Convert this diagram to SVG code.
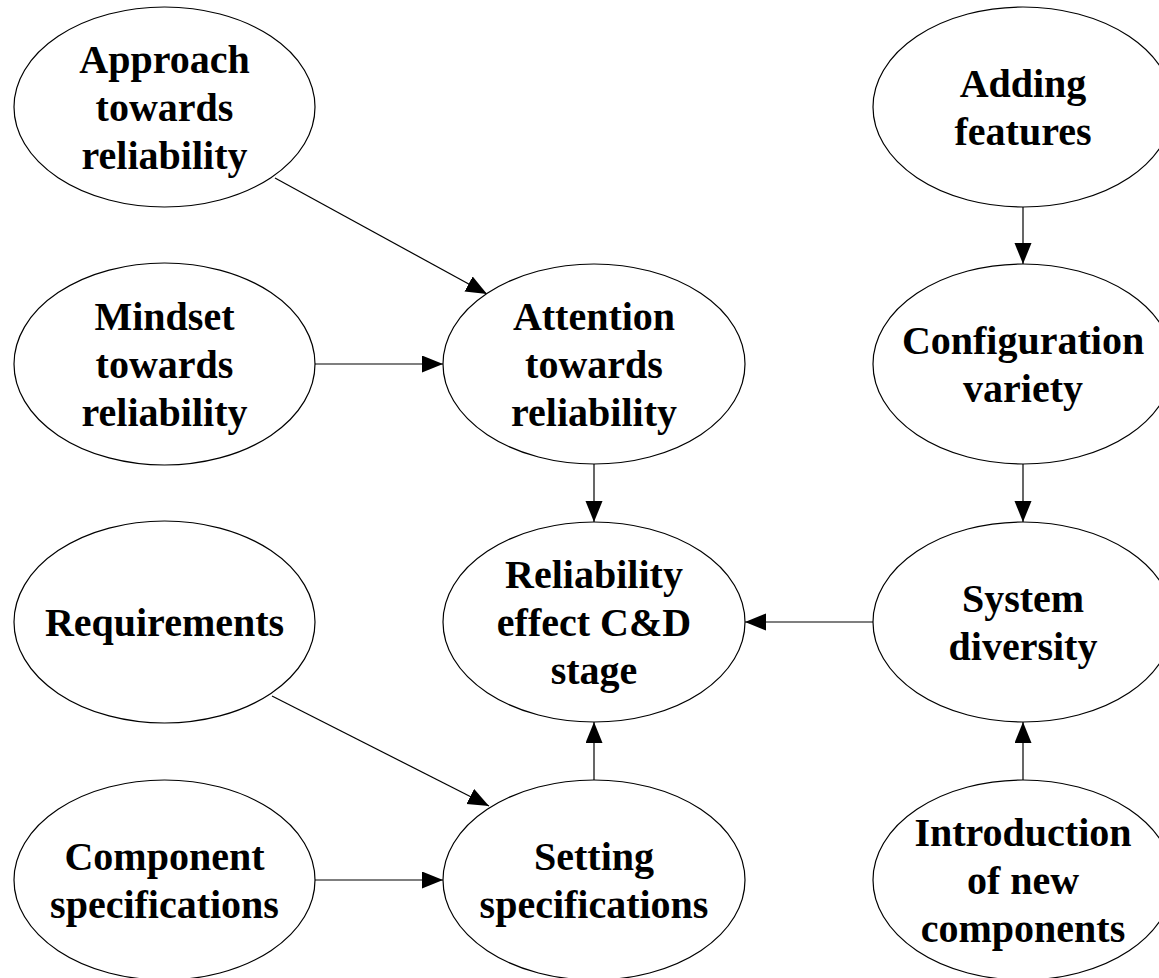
<svg xmlns="http://www.w3.org/2000/svg" width="1159" height="978" viewBox="0 0 1159 978">
<style>
.n ellipse{fill:#fff;stroke:#000;stroke-width:1.2}
.n text{font-family:"Liberation Serif","Times New Roman",serif;font-weight:bold;font-size:40px;text-anchor:middle;fill:#000}
.e line{stroke:#000;stroke-width:1.2}
</style>
<defs>
<marker id="ah" markerUnits="userSpaceOnUse" markerWidth="22" markerHeight="18" refX="21" refY="8.5" orient="auto" viewBox="0 0 22 18">
<path d="M0,0 L21,8.5 L0,17 z" fill="#000"/>
</marker>
</defs>
<rect width="1159" height="978" fill="#fff"/>
<g class="e" id="connectors">
<line x1="275" y1="178" x2="487" y2="294" marker-end="url(#ah)"/>
<line x1="315" y1="364" x2="443" y2="364" marker-end="url(#ah)"/>
<line x1="594" y1="464" x2="594" y2="522" marker-end="url(#ah)"/>
<line x1="1023" y1="207" x2="1023" y2="264" marker-end="url(#ah)"/>
<line x1="1023" y1="464" x2="1023" y2="522" marker-end="url(#ah)"/>
<line x1="873" y1="622" x2="745" y2="622" marker-end="url(#ah)"/>
<line x1="272" y1="696" x2="489" y2="806" marker-end="url(#ah)"/>
<line x1="315" y1="880" x2="443" y2="880" marker-end="url(#ah)"/>
<line x1="594" y1="780" x2="594" y2="722" marker-end="url(#ah)"/>
<line x1="1023" y1="780" x2="1023" y2="722" marker-end="url(#ah)"/>
</g>
<g class="n" id="approach"><ellipse cx="164.5" cy="107" rx="150.5" ry="100"/><text x="164.5" y="73">Approach</text><text x="164.5" y="121">towards</text><text x="164.5" y="169">reliability</text></g>
<g class="n" id="mindset"><ellipse cx="164.5" cy="364" rx="150.5" ry="101"/><text x="164.5" y="330">Mindset</text><text x="164.5" y="378">towards</text><text x="164.5" y="426">reliability</text></g>
<g class="n" id="attention"><ellipse cx="594" cy="364" rx="151" ry="100"/><text x="594" y="330">Attention</text><text x="594" y="378">towards</text><text x="594" y="426">reliability</text></g>
<g class="n" id="requirements"><ellipse cx="164.5" cy="622" rx="150.5" ry="101"/><text x="164.5" y="636">Requirements</text></g>
<g class="n" id="reliability"><ellipse cx="594" cy="622" rx="151" ry="100"/><text x="594" y="588">Reliability</text><text x="594" y="636">effect C&amp;D</text><text x="594" y="684">stage</text></g>
<g class="n" id="component"><ellipse cx="164.5" cy="880" rx="150.5" ry="100"/><text x="164.5" y="870">Component</text><text x="164.5" y="918">specifications</text></g>
<g class="n" id="setting"><ellipse cx="594" cy="880" rx="151" ry="100"/><text x="594" y="870">Setting</text><text x="594" y="918">specifications</text></g>
<g class="n" id="adding"><ellipse cx="1023" cy="107" rx="150" ry="100"/><text x="1023" y="97">Adding</text><text x="1023" y="145">features</text></g>
<g class="n" id="configuration"><ellipse cx="1023" cy="364" rx="150" ry="100"/><text x="1023" y="354">Configuration</text><text x="1023" y="402">variety</text></g>
<g class="n" id="system"><ellipse cx="1023" cy="622" rx="150" ry="100"/><text x="1023" y="612">System</text><text x="1023" y="660">diversity</text></g>
<g class="n" id="introduction"><ellipse cx="1023" cy="880" rx="150" ry="100"/><text x="1023" y="846">Introduction</text><text x="1023" y="894">of new</text><text x="1023" y="942">components</text></g>
</svg>
